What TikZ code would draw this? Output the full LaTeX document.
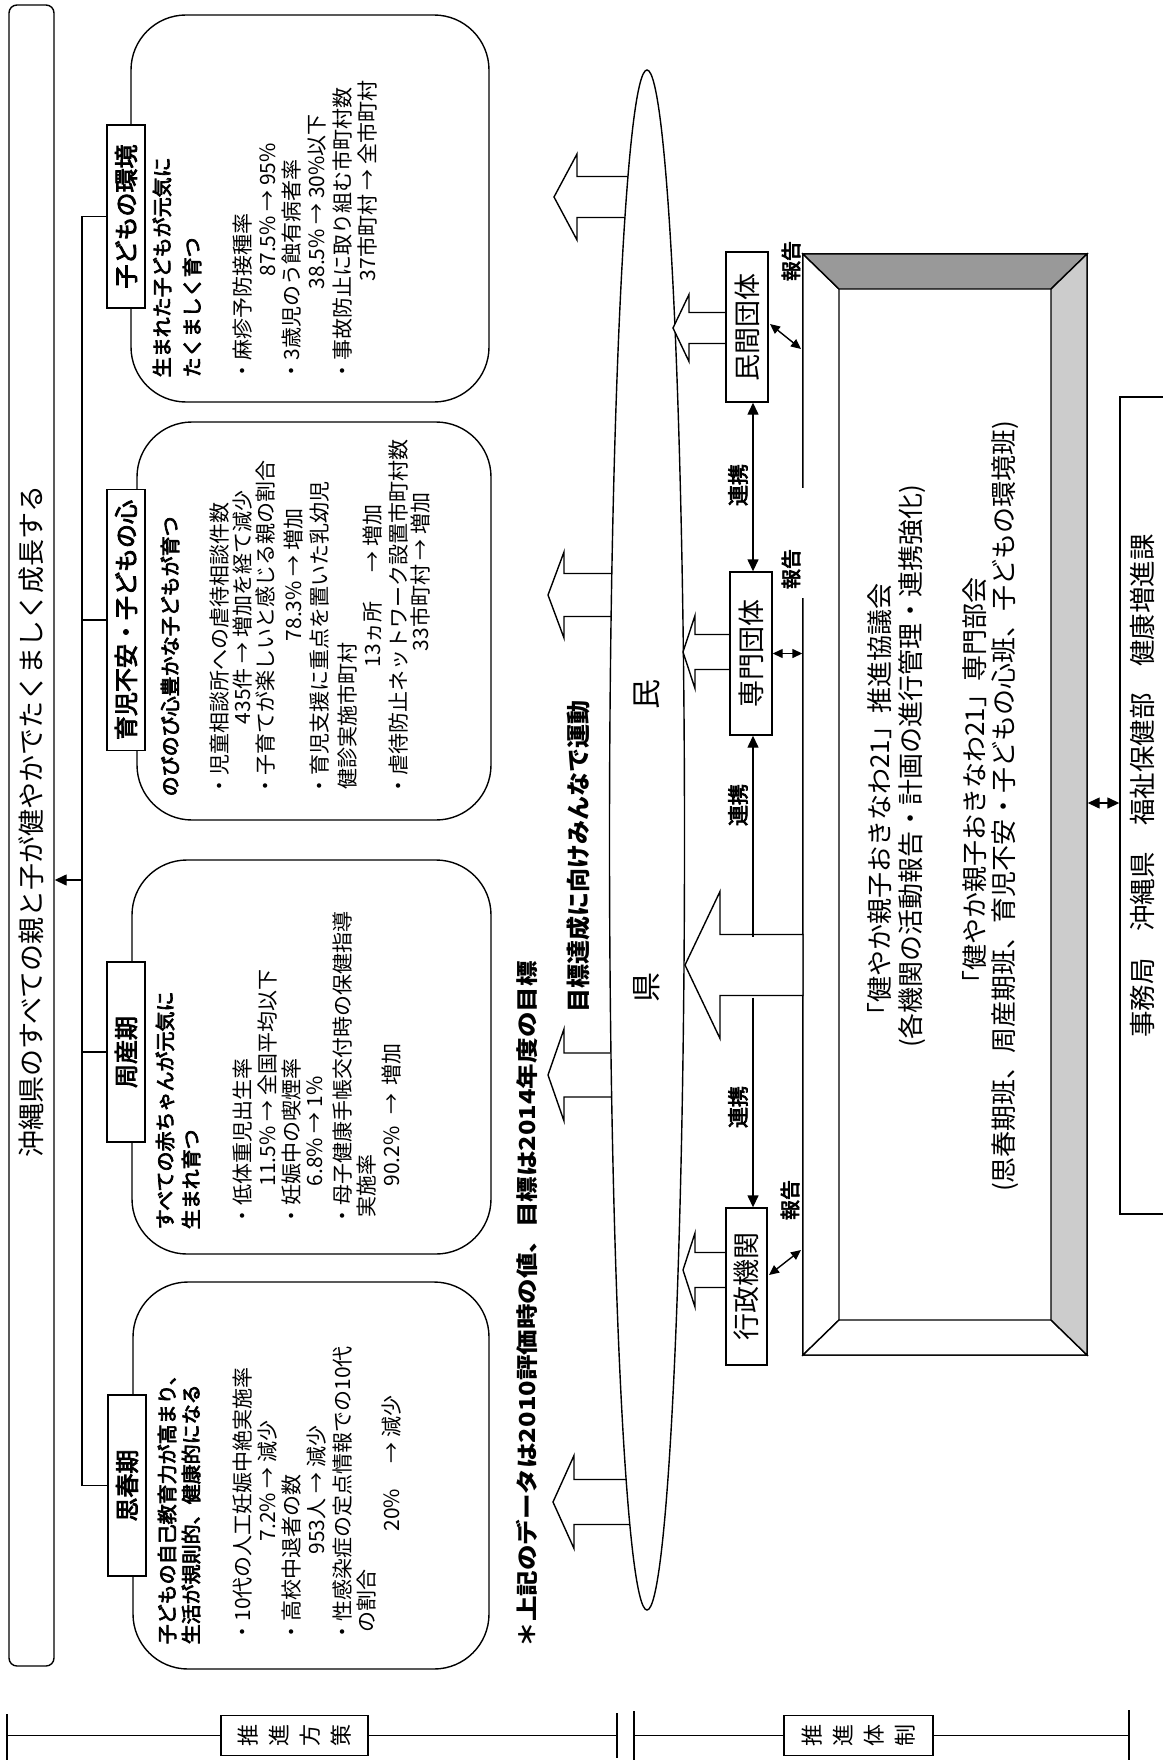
\documentclass[tikz,border=0pt]{standalone}
\usepackage{fontspec}
\newfontfamily\jp{Noto Sans CJK JP}
\newfontfamily\jpb[FakeBold=3.5]{Noto Sans CJK JP}
\usetikzlibrary{arrows.meta,calc}
\newcommand\fs[1]{\fontsize{#1}{#1}\selectfont}
\newcommand\blkarrow[6]{%
  \draw[fill=white] (#1,-#2) -- (#3,{-(#2-#4)}) -- (#3,{-(#2-#5)}) -- (#6,{-(#2-#5)}) -- (#6,{-(#2+#5)}) -- (#3,{-(#2+#5)}) -- (#3,{-(#2+#4)}) -- cycle;}
\begin{document}
\begin{tikzpicture}[x=1pt,y=1pt,line width=1.4pt,
  >={Triangle[length=12pt,width=11pt]},
  rl/.style={rotate=90,inner sep=0pt},
  tln/.style={rl,anchor=west,font=\jp\fs{21}},
  sub/.style={rl,anchor=west,font=\jpb\fs{20}},
  catb/.style={rotate=90,draw,fill=white,inner sep=0pt,minimum height=38pt,font=\jpb\fs{24}},
  orgb/.style={rotate=90,draw,fill=white,inner sep=0pt,minimum height=42pt,font=\jp\fs{27}},
  bigt/.style={rl,font=\jp\fs{26}},
  hk/.style={rl,font=\jpb\fs{20}},
  rk/.style={rl,font=\jpb\fs{21}},
  axb/.style={rotate=90,draw,fill=white,inner sep=0pt,minimum width=40pt,minimum height=147pt,align=center,font=\jp\fontsize{22}{31}\selectfont}]
\useasboundingbox (0,0) rectangle (1162,-1760);

% title
\node[rotate=90,draw,rounded corners=8pt,minimum width=1661pt,minimum height=45pt,inner sep=0pt] (title) at (31.5,-835.5) {};
\node[rl,font=\jp\fs{27}] (titlet) at (31.5,-821.5) {沖縄県のすべての親と子が健やかでたくましく成長する};

% content boxes
\draw[rounded corners=55pt] (131,-15) rectangle (489,-402);
\draw[rounded corners=55pt] (137,-422) rectangle (491,-820);
\draw[rounded corners=55pt] (132,-860) rectangle (491,-1254);
\draw[rounded corners=55pt] (133,-1282) rectangle (489,-1669);

% category boxes
\node[catb,minimum width=183pt] (cat1) at (126,-216.5) {子どもの環境};
\node[catb,minimum width=261pt] (cat2) at (126,-620) {育児不安・子どもの心};
\node[catb,minimum width=180pt] (cat3) at (126,-1052) {周産期};
\node[catb,minimum width=181pt] (cat4) at (127,-1485.5) {思春期};

% trunk
\coordinate (t1) at (82,-216.5);
\coordinate (t2) at (82,-620);
\coordinate (t3) at (82,-1052);
\coordinate (t4) at (82,-1485.5);
\coordinate (ta) at (82,-880);
\draw (t1) -- (t4);
\draw (t1) -- (cat1.north);
\draw (t2) -- (cat2.north);
\draw (t3) -- (cat3.north);
\draw (t4) -- (cat4.north);
\draw[->] (ta) -- (ta -| title.south);

% box 1
\node[sub] (s1a) at (162,-378) {生まれた子どもが元気に};
\node[sub] (s1b) at (192,-378) {たくましく育つ};
\foreach \n/\x/\y/\t in {a/243/382/{・麻疹予防接種率},b/268/277/{87.5\% → 95\%},c/292/382/{・3歳児のう蝕有病者率},d/317/290/{38.5\% → 30\%以下},e/342/382/{・事故防止に取り組む市町村数},f/367/282/{37市町村 → 全市町村}}
  \node[tln] (b1\n) at (\x,-\y) {\t};
% box 2
\node[sub] (s2a) at (170,-797) {のびのび心豊かな子どもが育つ};
\foreach \n/\x/\y/\t in {a/220/797/{・児童相談所への虐待相談件数},b/243/725/{435件 → 増加を経て減少},c/265/797/{・子育てが楽しいと感じる親の割合},d/294/642/{78.3\% → 増加},e/320/797/{・育児支援に重点を置いた乳幼児},f/347/790/{健診実施市町村},g/373/668/{13ヵ所\hspace{30pt}→ 増加},h/398/797/{・虐待防止ネットワーク設置市町村数},i/420/652/{33市町村 → 増加}}
  \node[tln] (b2\n) at (\x,-\y) {\t};
% box 3
\node[sub] (s3a) at (165,-1230) {すべての赤ちゃんが元気に};
\node[sub] (s3b) at (191,-1230) {生まれ育つ};
\foreach \n/\x/\y/\t in {a/243/1227/{・低体重児出生率},b/268/1187/{11.5\% → 全国平均以下},c/292/1227/{・妊娠中の喫煙率},d/315/1187/{6.8\% → 1\%},e/343/1227/{・母子健康手帳交付時の保健指導},f/367/1218/{実施率},g/392/1187/{90.2\%\hspace{12pt}→\hspace{8pt}増加}}
  \node[tln] (b3\n) at (\x,-\y) {\t};
% box 4
\node[sub] (s4a) at (167,-1645) {子どもの自己教育力が高まり、};
\node[sub] (s4b) at (191,-1645) {生活が規則的、健康的になる};
\foreach \n/\x/\y/\t in {a/243/1643/{・10代の人工妊娠中絶実施率},b/268/1542/{7.2\% → 減少},c/292/1643/{・高校中退者の数},d/317/1555/{953人 → 減少},e/343/1643/{・性感染症の定点情報での10代},f/367/1633/{の割合},g/392/1532/{20\%\hspace{25pt}→ 減少}}
  \node[tln] (b4\n) at (\x,-\y) {\t};

% arrows to content boxes
\blkarrow{554}{197}{577}{43}{20.5}{647}
\blkarrow{548}{595}{564}{43}{21.5}{647}
\blkarrow{548}{1075}{564}{46}{22}{647}
\blkarrow{553}{1502}{574}{46.5}{22.5}{647}

% ellipse
\draw[fill=white] (647,-840) ellipse [x radius=37.5, y radius=770];
\node[rl,font=\jp\fs{30}] (min2) at (647,-694) {民};
\node[rl,font=\jp\fs{30}] (ken) at (647,-987) {県};

% big box with bevel
\node[draw,minimum width=284pt,minimum height=1101pt,inner sep=0pt] (kyo) at (945,-804.5) {};
\draw[fill=white] (803,-254) -- (839,-289) -- (839,-1320) -- (803,-1355) -- cycle;
\draw[fill=white] (803,-1355) -- (839,-1320) -- (1051,-1320) -- (1087,-1355) -- cycle;
\draw[fill={rgb,255:red,153;green,153;blue,153}] (803,-254) -- (1087,-254) -- (1051,-289) -- (839,-289) -- cycle;
\draw[fill={rgb,255:red,204;green,204;blue,204}] (1087,-254) -- (1087,-1355) -- (1051,-1320) -- (1051,-289) -- cycle;
\node[bigt] (k1) at (880,-806) {「健やか親子おきなわ21」推進協議会};
\node[bigt] (k2) at (912,-766) {(各機関の活動報告・計画の進行管理・連携強化)};
\node[bigt] (k3) at (975,-787) {「健やか親子おきなわ21」専門部会};
\node[bigt] (k4) at (1005,-806) {(思春期班、周産期班、育児不安・子どもの心班、子どもの環境班)};

% arrows from organisations
\blkarrow{673}{328}{689}{33.5}{15.5}{726}
\blkarrow{683}{652}{695}{36.5}{17.5}{730}
\blkarrow{683}{1270}{695}{37}{17.5}{726}
\blkarrow{685}{965}{720}{73.5}{30.5}{803}

% organisations
\node[orgb,minimum width=150pt] (min) at (747,-327) {民間団体};
\node[orgb,minimum width=163pt] (sen) at (751,-653.5) {専門団体};
\node[orgb,minimum width=157pt,minimum height=41pt] (gyo) at (746.5,-1286.5) {行政機関};

% cooperation connectors
\coordinate (l1) at (753,0);
\coordinate (kenTop) at (753,-936.5);
\coordinate (kenBot) at (753,-997.5);
\draw[<->] (min.west -| l1) -- (sen.east -| l1);
\draw[<-] (sen.west -| l1) -- (kenTop);
\draw[->] (kenBot) -- (gyo.east -| l1);
\node[rk] (rk1) at (738,-485) {連携};
\node[rk] (rk2) at (738,-805) {連携};
\node[rk] (rk3) at (738,-1107) {連携};

% report connectors
\begin{scope}[>={Triangle[length=10pt,width=9pt]}]
\coordinate (r1a) at (770,-324);
\coordinate (r1b) at (801,-349);
\draw[<->] (r1a) -- (r1b);
\coordinate (r2) at (0,-653.5);
\draw[<->] (sen.south) -- (kyo.west |- r2);
\coordinate (r3a) at (769,-1275);
\coordinate (r3b) at (801,-1250);
\draw[<->] (r3a) -- (r3b);
\end{scope}
\fill[white] (776,-488) rectangle (804.5,-598);
\node[hk] (hk1) at (791,-261) {報告};
\node[hk] (hk2) at (791,-569) {報告};
\node[hk] (hk3) at (790,-1200) {報告};

% secretariat
\node[rotate=90,draw,minimum width=817pt,minimum height=60pt,inner sep=0pt] (jim) at (1150,-805.5) {};
\node[rl,font=\jp\fs{26.5}] (jimt) at (1142,-786) {事務局　沖縄県　福祉保健部　健康増進課};
\coordinate (j1) at (0,-803);
\draw[<->] (kyo.east |- j1) -- (jim.north |- j1);

% texts
\node[rl,anchor=west,font=\jp\bfseries\fs{24}] (undo) at (578,-1013) {目標達成に向けみんなで運動};
\node[rl,anchor=west,xscale=1.16,font=\jp\bfseries\fs{22}] (note) at (527,-1648) {＊上記のデータは2010評価時の値、目標は2014年度の目標};

% bottom axis
\node[axb] (hosaku) at (294.5,-1735.5) {推\\進\\方\\策};
\node[axb,minimum height=149pt] (taisei) at (858.5,-1735.5) {推\\進\\体\\制};
\coordinate (ax0) at (7,-1735.5);
\coordinate (ax1) at (617,-1735.5);
\coordinate (ax2) at (634,-1735.5);
\coordinate (ax3) at (1129,-1735.5);
\draw (ax0) -- (hosaku.north);
\draw (hosaku.south) -- (ax1);
\draw (ax2) -- (taisei.north);
\draw (taisei.south) -- (ax3);
\draw[line width=2pt] (7,-1714) -- (7,-1760);
\draw[line width=2pt] (617,-1713) -- (617,-1758);
\draw[line width=2pt] (634,-1711) -- (634,-1760);
\draw[line width=2pt] (1129,-1710) -- (1129,-1760);
\end{tikzpicture}
\end{document}
